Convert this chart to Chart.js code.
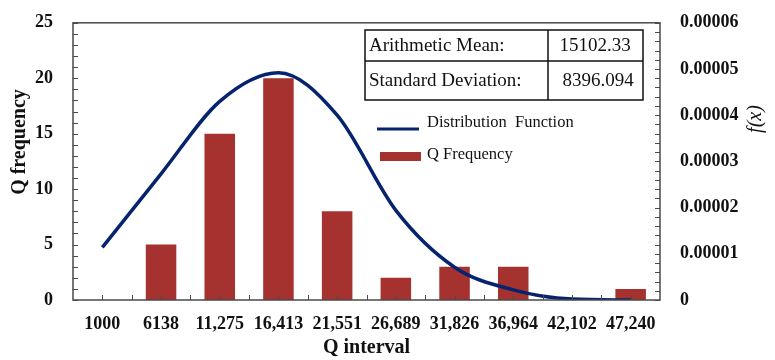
<!DOCTYPE html>
<html>
<head>
<meta charset="utf-8">
<script src="https://cdn.jsdelivr.net/npm/chart.js@4"></script>
<style>
  html, body { margin: 0; padding: 0; background: #fff; }
  #wrap { width: 775px; height: 360px; }
</style>
</head>
<body>
<div id="wrap"><canvas id="chart" width="775" height="360"></canvas></div>
<script>
// values
const categories = ['1000', '6138', '11,275', '16,413', '21,551', '26,689', '31,826', '36,964', '42,102', '47,240'];
const qFrequency = [0, 5, 15, 20, 8, 2, 3, 3, 0, 1];
const distribution = [0.0000114, 0.0000273, 0.0000430, 0.0000492, 0.0000400, 0.0000194, 0.0000071, 0.0000022, 0.0000002, 0.0000000];
const leftTickLabels = ['0', '5', '10', '15', '20', '25'];
const rightTickLabels = ['0', '0.00001', '0.00002', '0.00003', '0.00004', '0.00005', '0.00006'];
const statNames = ['Arithmetic Mean:', 'Standard Deviation:'];
const statValues = ['15102.33', '8396.094'];

const SERIF = '"Liberation Serif", "Times New Roman", serif';
const RED = '#a63230';
const NAVY = '#06246e';
const FRAME = '#4a4a4a';

const extras = {
    id: 'extras',
    afterDraw(chart) {
        const ctx = chart.ctx;
        const a = chart.chartArea;
        const y = chart.scales.y;
        const y2 = chart.scales.y2;
        const x = chart.scales.x;
        ctx.save();

        // frame
        ctx.strokeStyle = FRAME;
        ctx.lineWidth = 1.5;
        ctx.strokeRect(a.left, a.top, a.right - a.left, a.bottom - a.top);

        // inner ticks
        ctx.lineWidth = 1;
        ctx.beginPath();
        for (let v = 0; v <= 25; v++) {
            const py = Math.round(y.getPixelForValue(v)) + 0.5;
            ctx.moveTo(a.left, py);
            ctx.lineTo(a.left + 5, py);
        }
        for (let i = 0; i <= 30; i++) {
            const py = Math.round(y2.getPixelForValue(i * 0.000002)) + 0.5;
            ctx.moveTo(a.right, py);
            ctx.lineTo(a.right - 5, py);
        }
        for (let i = 0; i < categories.length; i++) {
            const c = Math.round(x.getPixelForValue(i)) + 0.5;
            ctx.moveTo(c, a.bottom);
            ctx.lineTo(c, a.bottom - 5);
            if (i > 0) {
                const b = Math.round((x.getPixelForValue(i) + x.getPixelForValue(i - 1)) / 2) + 0.5;
                ctx.moveTo(b, a.bottom);
                ctx.lineTo(b, a.bottom - 5);
            }
        }
        ctx.stroke();

        // stats table
        ctx.strokeStyle = '#111';
        ctx.lineWidth = 1.5;
        ctx.strokeRect(365, 30, 278, 70);
        ctx.beginPath();
        ctx.moveTo(365, 61);
        ctx.lineTo(643, 61);
        ctx.moveTo(548, 30);
        ctx.lineTo(548, 100);
        ctx.stroke();
        ctx.fillStyle = '#111';
        ctx.font = '19px ' + SERIF;
        ctx.textBaseline = 'middle';
        ctx.textAlign = 'left';
        ctx.fillText(statNames[0], 369, 46);
        ctx.fillText(statNames[1], 369, 81);
        ctx.textAlign = 'center';
        ctx.fillText(statValues[0], 595, 46);
        ctx.fillText(statValues[1], 598, 81);

        // legend
        ctx.strokeStyle = NAVY;
        ctx.lineWidth = 3;
        ctx.beginPath();
        ctx.moveTo(377, 129);
        ctx.lineTo(419, 129);
        ctx.stroke();
        ctx.fillStyle = RED;
        ctx.fillRect(380, 152, 41, 9);
        ctx.fillStyle = '#111';
        ctx.textAlign = 'left';
        ctx.font = '16.5px ' + SERIF;
        ctx.fillText(chart.data.datasets[0].label, 427, 123);
        ctx.fillText(chart.data.datasets[1].label, 427, 155);

        // axis titles drawn bottom-to-top
        ctx.textAlign = 'center';
        ctx.save();
        ctx.translate(20, 142);
        ctx.rotate(-Math.PI / 2);
        ctx.font = 'bold 20px ' + SERIF;
        ctx.fillText('Q frequency', 0, 0);
        ctx.restore();
        ctx.translate(756, 119);
        ctx.rotate(-Math.PI / 2);
        ctx.font = 'italic 20px ' + SERIF;
        ctx.fillText('f(x)', 0, 0);
        ctx.restore();
    }
};

new Chart(document.getElementById('chart'), {
    data: {
        labels: categories,
        datasets: [
            {
                type: 'line',
                label: 'Distribution  Function',
                data: distribution,
                yAxisID: 'y2',
                borderColor: NAVY,
                borderWidth: 3.5,
                pointRadius: 0,
                cubicInterpolationMode: 'monotone',
                fill: false,
                order: 0,
            },
            {
                type: 'bar',
                label: 'Q Frequency',
                data: qFrequency,
                yAxisID: 'y',
                backgroundColor: RED,
                borderWidth: 0,
                barPercentage: 0.52,
                categoryPercentage: 1,
                order: 1,
            },
        ],
    },
    options: {
        responsive: false,
        animation: false,
        layout: { padding: { top: 12, left: 0, right: 0, bottom: 0 } },
        plugins: {
            legend: { display: false },
            tooltip: { enabled: false },
        },
        scales: {
            x: {
                grid: { display: false },
                border: { display: false },
                ticks: {
                    color: '#111',
                    padding: 6,
                    maxRotation: 0,
                    autoSkip: false,
                    font: { family: SERIF, size: 18, weight: 'bold' },
                },
                title: {
                    display: true,
                    text: 'Q interval',
                    color: '#111',
                    padding: { top: 2, bottom: 0 },
                    font: { family: SERIF, size: 20, weight: 'bold' },
                },
                afterFit(scale) { scale.height = 60; },
            },
            y: {
                position: 'left',
                min: 0,
                max: 25,
                grid: { display: false },
                border: { display: false },
                ticks: {
                    stepSize: 5,
                    padding: 12,
                    color: '#111',
                    font: { family: SERIF, size: 18, weight: 'bold' },
                    callback: (v, i) => leftTickLabels[i],
                },
                afterFit(scale) { scale.width = 73; },
            },
            y2: {
                position: 'right',
                min: 0,
                max: 0.00006,
                grid: { display: false },
                border: { display: false },
                ticks: {
                    stepSize: 0.00001,
                    padding: 12,
                    color: '#111',
                    font: { family: SERIF, size: 18, weight: 'bold' },
                    callback: (v, i) => rightTickLabels[i],
                },
                afterFit(scale) { scale.width = 115; },
            },
        },
    },
    plugins: [extras],
});
</script>
</body>
</html>
